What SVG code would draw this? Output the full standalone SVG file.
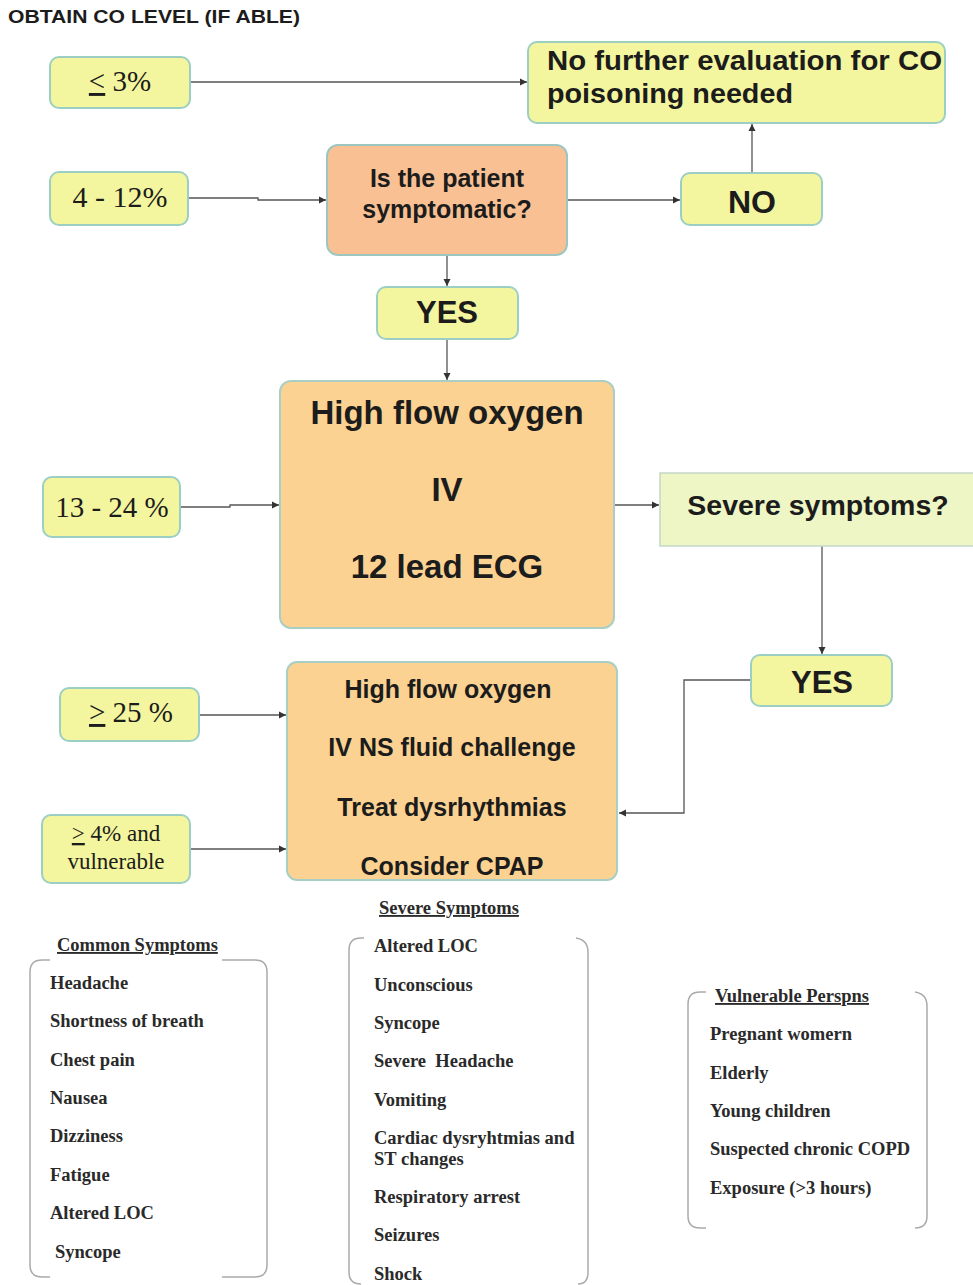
<svg xmlns="http://www.w3.org/2000/svg" width="973" height="1285" viewBox="0 0 973 1285">
<defs>
<marker id="ah" markerWidth="8" markerHeight="8" refX="7" refY="4" orient="auto" markerUnits="userSpaceOnUse">
<path d="M0,0.5 L7,4 L0,7.5 Z" fill="#333"/>
</marker>
</defs>
<style>
.yb{fill:#f3f69e;stroke:#9ccfc4;stroke-width:2}
.ob{fill:#fbd291;stroke:#a9cfc4;stroke-width:2}
.sb{fill:#f9c193;stroke:#9cc6bf;stroke-width:2}
.gb{fill:#eef6c6;stroke:#c4d6c8;stroke-width:1.5}
.b{font-family:"Liberation Sans",Arial,sans-serif;font-weight:bold;fill:#1c1c1c}
.s{font-family:"Liberation Serif","Times New Roman",serif;fill:#1c1c1c}
.l{font-family:"Liberation Serif","Times New Roman",serif;font-weight:bold;font-size:18.5px;fill:#2a2a2a}
.c{fill:none;stroke:#555;stroke-width:1.3;marker-end:url(#ah)}
.br{fill:none;stroke:#aaa;stroke-width:1.5}
</style>
<rect width="973" height="1285" fill="#fff"/>
<text x="8" y="23" class="b" font-size="19" fill="#222" textLength="292" lengthAdjust="spacingAndGlyphs">OBTAIN CO LEVEL (IF ABLE)</text>

<g id="connectors">
<path class="c" d="M190,82 H527"/>
<path class="c" d="M188,198 H258 V200 H326"/>
<path class="c" d="M567,200 H680"/>
<path class="c" d="M752,173 V124"/>
<path class="c" d="M447,255 V286"/>
<path class="c" d="M447,339 V380"/>
<path class="c" d="M180,507 H230 V505 H279"/>
<path class="c" d="M614,505 H659"/>
<path class="c" d="M822,546 V654"/>
<path class="c" d="M751,680 H684 V813 H619"/>
<path class="c" d="M199,715 H286"/>
<path class="c" d="M190,849 H286"/>
</g>

<g id="n_le3">
<rect class="yb" x="50" y="57" width="140" height="51" rx="9"/>
<text x="120" y="91" class="s" font-size="29" text-anchor="middle"><tspan text-decoration="underline">&lt;</tspan> 3%</text>
</g>
<g id="n_nofurther">
<rect class="yb" x="528" y="42" width="417" height="81" rx="9"/>
<text class="b" font-size="27" x="547" y="70" textLength="395" lengthAdjust="spacingAndGlyphs">No further evaluation for CO</text>
<text class="b" font-size="27" x="547" y="103" textLength="246" lengthAdjust="spacingAndGlyphs">poisoning needed</text>
</g>
<g id="n_4to12">
<rect class="yb" x="50" y="172" width="138" height="53" rx="9"/>
<text x="120" y="207" class="s" font-size="30" text-anchor="middle">4 - 12%</text>
</g>
<g id="n_symptomatic">
<rect class="sb" x="327" y="145" width="240" height="110" rx="11"/>
<text class="b" font-size="25" x="447" y="187" text-anchor="middle" fill="#3a3a3a">Is the patient</text>
<text class="b" font-size="25" x="447" y="218" text-anchor="middle" fill="#3a3a3a">symptomatic?</text>
</g>
<g id="n_no">
<rect class="yb" x="681" y="173" width="141" height="52" rx="9"/>
<text class="b" font-size="32" x="752" y="213" text-anchor="middle">NO</text>
</g>
<g id="n_yes1">
<rect class="yb" x="377" y="287" width="141" height="52" rx="9"/>
<text class="b" font-size="31" x="447" y="323" text-anchor="middle">YES</text>
</g>
<g id="n_treat1">
<rect class="ob" x="280" y="381" width="334" height="247" rx="11"/>
<text class="b" font-size="33" x="447" y="424" text-anchor="middle" fill="#333">High flow oxygen</text>
<text class="b" font-size="33" x="447" y="501" text-anchor="middle" fill="#333">IV</text>
<text class="b" font-size="33" x="447" y="578" text-anchor="middle" fill="#333">12 lead ECG</text>
</g>
<g id="n_13to24">
<rect class="yb" x="43" y="477" width="137" height="60" rx="9"/>
<text x="112" y="517" class="s" font-size="29" text-anchor="middle">13 - 24 %</text>
</g>
<g id="n_severe">
<rect class="gb" x="660" y="473" width="320" height="73"/>
<text class="b" font-size="28.5" x="818" y="515" text-anchor="middle">Severe symptoms?</text>
</g>
<g id="n_yes2">
<rect class="yb" x="751" y="655" width="141" height="51" rx="9"/>
<text class="b" font-size="31" x="822" y="693" text-anchor="middle">YES</text>
</g>
<g id="n_treat2">
<rect class="ob" x="287" y="662" width="330" height="218" rx="10"/>
<text class="b" font-size="25" x="448" y="698" text-anchor="middle">High flow oxygen</text>
<text class="b" font-size="25" x="452" y="756" text-anchor="middle">IV NS fluid challenge</text>
<text class="b" font-size="25" x="452" y="816" text-anchor="middle">Treat dysrhythmias</text>
<text class="b" font-size="25" x="452" y="875" text-anchor="middle">Consider CPAP</text>
</g>
<g id="n_ge25">
<rect class="yb" x="60" y="688" width="139" height="53" rx="9"/>
<text x="131" y="722" class="s" font-size="29" text-anchor="middle"><tspan text-decoration="underline">&gt;</tspan> 25 %</text>
</g>
<g id="n_vulnerable">
<rect class="yb" x="42" y="815" width="148" height="68" rx="9"/>
<text x="116" y="841" class="s" font-size="23" text-anchor="middle"><tspan text-decoration="underline">&gt;</tspan> 4% and</text>
<text x="116" y="869" class="s" font-size="23" text-anchor="middle">vulnerable</text>
</g>

<g id="list_common">
<path class="br" d="M50,960 H42 Q30,960 30,972 V1265 Q30,1277 42,1277 H50"/>
<path class="br" d="M222,960 H255 Q267,960 267,972 V1265 Q267,1277 255,1277 H222"/>
<text class="l" x="57" y="951" text-decoration="underline">Common Symptoms</text>
<text class="l" x="50" y="989">Headache</text>
<text class="l" x="50" y="1027">Shortness of breath</text>
<text class="l" x="50" y="1066">Chest pain</text>
<text class="l" x="50" y="1104">Nausea</text>
<text class="l" x="50" y="1142">Dizziness</text>
<text class="l" x="50" y="1181">Fatigue</text>
<text class="l" x="50" y="1219">Altered LOC</text>
<text class="l" x="55" y="1258">Syncope</text>
</g>
<g id="list_severe">
<path class="br" d="M364,938 H361 Q349,938 349,950 V1272 Q349,1284 361,1284"/>
<path class="br" d="M576,938 Q588,940 588,952 V1272 Q588,1284 578,1284"/>
<text class="l" x="379" y="914" text-decoration="underline">Severe Symptoms</text>
<text class="l" x="374" y="952">Altered LOC</text>
<text class="l" x="374" y="991">Unconscious</text>
<text class="l" x="374" y="1029">Syncope</text>
<text class="l" x="374" y="1067" xml:space="preserve">Severe  Headache</text>
<text class="l" x="374" y="1106">Vomiting</text>
<text class="l" x="374" y="1144">Cardiac dysryhtmias and</text>
<text class="l" x="374" y="1165">ST changes</text>
<text class="l" x="374" y="1203">Respiratory arrest</text>
<text class="l" x="374" y="1241">Seizures</text>
<text class="l" x="374" y="1280">Shock</text>
</g>
<g id="list_vulnerable">
<path class="br" d="M706,992 H700 Q688,992 688,1004 V1216 Q688,1228 700,1228 H706"/>
<path class="br" d="M915,992 Q927,994 927,1006 V1216 Q927,1228 915,1228"/>
<text class="l" x="715" y="1002" text-decoration="underline">Vulnerable Perspns</text>
<text class="l" x="710" y="1040">Pregnant womern</text>
<text class="l" x="710" y="1079">Elderly</text>
<text class="l" x="710" y="1117">Young children</text>
<text class="l" x="710" y="1155">Suspected chronic COPD</text>
<text class="l" x="710" y="1194">Exposure (&gt;3 hours)</text>
</g>
</svg>
